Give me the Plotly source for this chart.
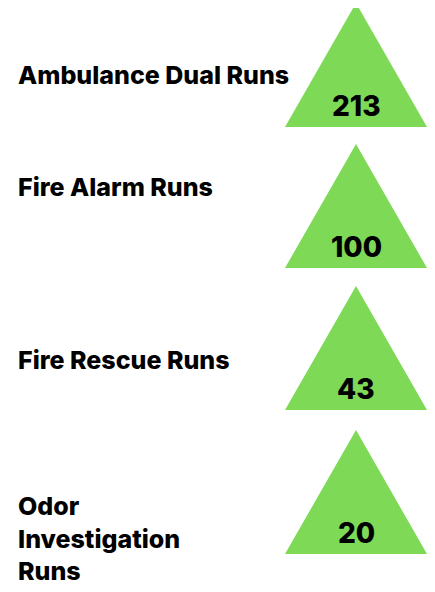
import plotly.graph_objects as go

categories = ["Ambulance Dual Runs", "Fire Alarm Runs", "Fire Rescue Runs", "Odor<br>Investigation<br>Runs"]
values = [213, 100, 43, 20]

# layout (pixel-space) settings; page body has an 8px margin
W, H = 435, 592
OFF = 8
apex_y = [3, 144, 286, 430]
tri_h = 124
tri_cx = 356
tri_half = 71
label_y = [75, 187, 360, 538]
label_x = 16
GREEN = "#7ED957"

fig = go.Figure()
for i, (cat, val) in enumerate(zip(categories, values)):
    a = apex_y[i]
    fig.add_trace(go.Scatter(
        x=[tri_cx, tri_cx + tri_half, tri_cx - tri_half, tri_cx],
        y=[a, a + tri_h, a + tri_h, a],
        mode="lines", fill="toself", fillcolor=GREEN,
        line=dict(width=0, color=GREEN), hoverinfo="skip", showlegend=False))
    fig.add_annotation(x=tri_cx, y=a + 103, text=str(val), showarrow=False,
                       xanchor="center", yanchor="middle",
                       font=dict(family="Inter", size=28, color="#000000", weight=800))
    fig.add_annotation(x=label_x, y=label_y[i], text=cat, showarrow=False,
                       xanchor="left", yanchor="middle", align="left",
                       font=dict(family="Inter", size=25, color="#000000", weight=800))

fig.update_layout(
    width=W - OFF, height=H - OFF, margin=dict(l=0, r=0, t=0, b=0),
    paper_bgcolor="white", plot_bgcolor="white",
    xaxis=dict(range=[OFF, W], visible=False, fixedrange=True),
    yaxis=dict(range=[H, OFF], visible=False, fixedrange=True),
)
fig.write_html("out.html")
